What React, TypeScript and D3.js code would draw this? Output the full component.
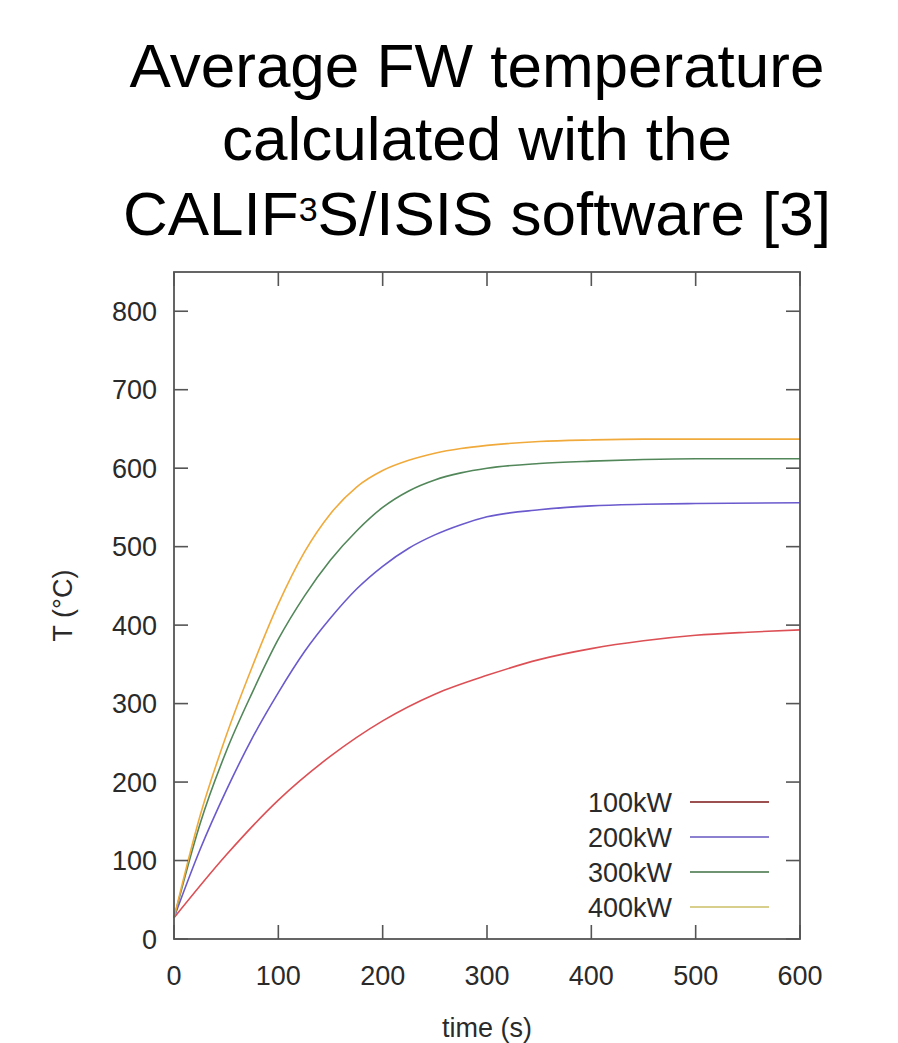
import React from "react";
import * as d3 from "d3";

const timeRed = [0, 50, 100, 150, 200, 250, 300, 350, 400, 450, 500, 550, 600];
const temp100kW = [27, 107, 177, 233, 278, 312, 336, 356, 370, 380, 387, 391, 394];

const timeFine = [0, 25, 50, 75, 100, 125, 150, 175, 200, 225, 250, 275, 300, 350, 400, 450, 500, 600];
const temp200kW = [27, 114, 189, 256, 314, 366, 409, 446, 475, 498, 515, 528, 538, 547, 552, 554, 555, 556];
const temp300kW = [27, 147, 239, 314, 382, 437, 483, 520, 550, 571, 585, 594, 600, 606, 609, 611, 612, 612];
const temp400kW = [27, 157, 259, 347, 427, 493, 542, 576, 597, 610, 619, 625, 629, 634, 636, 637, 637, 637];

const seriesNames = ["100kW", "200kW", "300kW", "400kW"];
const seriesColors = ["#dc5055", "#6a5acd", "#52875a", "#f0aa3c"];
const legendColors = ["#9c5050", "#8c80d0", "#6f9472", "#d8cf8c"];

const xTicks = [0, 100, 200, 300, 400, 500, 600];
const yTicks = [0, 100, 200, 300, 400, 500, 600, 700, 800];

const titleLines = ["Average FW temperature", "calculated with the"];

export default function App() {
  const W = 898, H = 1043;
  const left = 174, right = 800, top = 272, bottom = 939;
  const x = d3.scaleLinear().domain([0, 600]).range([left, right]);
  const y = d3.scaleLinear().domain([0, 850]).range([bottom, top]);
  const line = d3
    .line<[number, number]>()
    .x((d) => x(d[0]))
    .y((d) => y(d[1]))
    .curve(d3.curveMonotoneX);

  const series: [number, number][][] = [
    timeRed.map((t, i) => [t, temp100kW[i]]),
    timeFine.map((t, i) => [t, temp200kW[i]]),
    timeFine.map((t, i) => [t, temp300kW[i]]),
    timeFine.map((t, i) => [t, temp400kW[i]]),
  ];

  const tickLen = 14;
  const axisColor = "#555";
  const font = "'Liberation Sans', Arial, Helvetica, sans-serif";
  const legendRows = [802, 837, 872, 907];

  return (
    <svg
      width={W}
      height={H}
      style={{ position: "absolute", left: 0, top: 0, background: "#fff" }}
      fontFamily={font}
    >
      <rect x={0} y={0} width={W} height={H} fill="#fff" />
      {/* title */}
      <text x={477} y={87} fontSize={62} textAnchor="middle" fill="#000">
        {titleLines[0]}
      </text>
      <text x={477} y={160} fontSize={62} textAnchor="middle" fill="#000">
        {titleLines[1]}
      </text>
      <text x={477} y={235} fontSize={62} textAnchor="middle" fill="#000">
        CALIF
        <tspan fontSize={34} dy={-14}>3</tspan>
        <tspan dy={14}>S/ISIS software [3]</tspan>
      </text>

      {/* curves */}
      {series.map((s, i) => (
        <path
          key={i}
          d={line(s) || ""}
          fill="none"
          stroke={seriesColors[i]}
          strokeWidth={1.6}
        />
      ))}

      {/* ticks */}
      {xTicks.map((t) => (
        <g key={"x" + t}>
          <line x1={x(t)} x2={x(t)} y1={bottom} y2={bottom - tickLen} stroke={axisColor} strokeWidth={1.6} />
          <line x1={x(t)} x2={x(t)} y1={top} y2={top + tickLen} stroke={axisColor} strokeWidth={1.6} />
          <text x={x(t)} y={985} fontSize={27} textAnchor="middle" fill="#2a2a2a">
            {t}
          </text>
        </g>
      ))}
      {yTicks.map((v) => (
        <g key={"y" + v}>
          <line x1={left} x2={left + tickLen} y1={y(v)} y2={y(v)} stroke={axisColor} strokeWidth={1.6} />
          <line x1={right} x2={right - tickLen} y1={y(v)} y2={y(v)} stroke={axisColor} strokeWidth={1.6} />
          <text x={157} y={y(v)} dy="0.36em" fontSize={27} textAnchor="end" fill="#2a2a2a">
            {v}
          </text>
        </g>
      ))}

      {/* frame */}
      <rect x={left} y={top} width={right - left} height={bottom - top} fill="none" stroke={axisColor} strokeWidth={1.8} />

      {/* legend */}
      {seriesNames.map((n, i) => (
        <g key={n}>
          <text x={672} y={legendRows[i]} dy="0.36em" fontSize={27} textAnchor="end" fill="#2a2a2a">
            {n}
          </text>
          <line x1={690} x2={769} y1={legendRows[i]} y2={legendRows[i]} stroke={legendColors[i]} strokeWidth={2} />
        </g>
      ))}

      {/* axis labels */}
      <text x={487} y={1037} fontSize={27} textAnchor="middle" fill="#2a2a2a">
        time (s)
      </text>
      <text
        transform={`translate(72, ${(top + bottom) / 2}) rotate(-90)`}
        fontSize={27}
        textAnchor="middle"
        fill="#2a2a2a"
      >
        T (°C)
      </text>
    </svg>
  );
}
